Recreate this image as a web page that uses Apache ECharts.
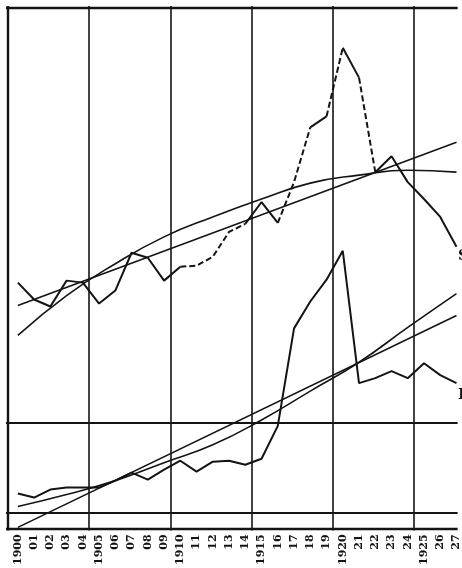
<!DOCTYPE html>
<html>
<head>
<meta charset="utf-8">
<script src="https://cdn.jsdelivr.net/npm/echarts@6/dist/echarts.min.js"></script>
<style>
  html, body { margin: 0; padding: 0; background: #fff; }
  #chart { width: 462px; height: 568px; }
</style>
</head>
<body>
<div id="chart"></div>
<script>
// years 1900 - 1927, labels as printed on the scan
var years = [];
for (var y = 1900; y <= 1927; y++) years.push(y);
var yearLabels = years.map(function (y) {
  return y % 5 === 0 ? String(y) : String(y).slice(2);
});

// upper curve (S), arbitrary units
var sValues = [247, 230, 223, 249, 247, 226, 239, 277, 272, 249, 263, 264, 273, 298, 306,
  328, 307, 348, 403, 414, 483, 453, 358, 374, 348, 331, 313, 283];
// segments of S that are printed dashed (from index, to index)
var sDashed = [[10, 14], [16, 18], [19, 20], [21, 22]];

// lower curve (R)
var rValues = [35, 31, 39, 41, 41, 41, 48, 56, 49, 59, 68, 57, 67, 68, 64,
  70, 103, 201, 228, 250, 279, 146, 151, 158, 151, 166, 154, 146];

// trend lines: straight (ends) and curved (read every 3 years)
var sLineEnds = [[0, 224], [27, 388]];
var sCurveYears = [0, 3, 6, 9, 12, 15, 18, 21, 24, 27];
var sCurveValues = [194, 234, 266, 293, 313, 331, 347, 355, 360, 358];
var rLineEnds = [[0, 1], [27, 214]];
var rCurveYears = [0, 3, 6, 9, 12, 15, 18, 21, 24, 27];
var rCurveValues = [22, 34, 48, 66, 84, 109, 138, 167, 202, 236];

// ruled lines of the chart paper
var verticalRules = [-0.61, 4.39, 9.39, 14.39, 19.39, 24.39];
var horizontalRules = [523, 106, 16, 0];

var ink = "#141414";
var chart = echarts.init(document.getElementById("chart"));

function pairs(xs, vs) {
  return xs.map(function (x, i) { return [x, vs[i]]; });
}

function isDashed(i) {
  return sDashed.some(function (r) { return i >= r[0] && i < r[1]; });
}

var series = [];

// S drawn as runs of solid / dashed pieces
var runStart = 0;
for (var i = 0; i < sValues.length - 1; i++) {
  var last = i === sValues.length - 2;
  if (last || isDashed(i) !== isDashed(i + 1)) {
    var pts = [];
    for (var k = runStart; k <= i + 1; k++) pts.push([k, sValues[k]]);
    series.push({
      type: "line",
      data: pts,
      symbol: "none",
      lineStyle: { color: ink, width: 2, type: isDashed(i) ? [6, 3] : "solid" },
    });
    runStart = i + 1;
  }
}

series.push({
  type: "line",
  data: rValues.map(function (v, i) { return [i, v]; }),
  symbol: "none",
  lineStyle: { color: ink, width: 2 },
});

series.push({
  type: "line",
  data: sLineEnds,
  symbol: "none",
  lineStyle: { color: ink, width: 1.6 },
  markLine: {
    silent: true,
    symbol: "none",
    label: { show: false },
    animation: false,
    data: verticalRules.map(function (x, i) {
      return { xAxis: x, lineStyle: { color: ink, width: i === 0 ? 2.4 : 1.6, type: "solid" } };
    }).concat(horizontalRules.map(function (v) {
      var heavy = v === 0 || v === 523;
      return { yAxis: v, lineStyle: { color: ink, width: heavy ? 2.4 : 1.8, type: "solid" } };
    })),
  },
});
series.push({
  type: "line",
  data: pairs(sCurveYears, sCurveValues),
  smooth: true,
  symbol: "none",
  lineStyle: { color: ink, width: 1.6 },
});
series.push({
  type: "line",
  data: rLineEnds,
  symbol: "none",
  lineStyle: { color: ink, width: 1.6 },
});
series.push({
  type: "line",
  data: pairs(rCurveYears, rCurveValues),
  smooth: true,
  symbol: "none",
  lineStyle: { color: ink, width: 1.6 },
});

var option = {
  backgroundColor: "#fff",
  animation: false,
  grid: { left: 6, right: 0, top: 6, bottom: 35 },
  xAxis: {
    type: "value",
    min: -0.73,
    max: 27.07,
    axisLine: { show: false },
    axisTick: { show: false },
    splitLine: { show: false },
    axisLabel: {
      customValues: years.map(function (y, i) { return i; }),
      formatter: function (v) { return yearLabels[Math.round(v)]; },
      rotate: 90,
      margin: 4,
      color: ink,
      fontFamily: "DejaVu Serif",
      fontWeight: "bold",
      fontSize: 11,
    },
  },
  yAxis: {
    type: "value",
    min: -2,
    max: 525,
    show: false,
  },
  graphic: [
    { type: "text", left: 458, top: 249, style: { text: "S", font: "bold 15px 'DejaVu Serif'", fill: ink } },
    { type: "text", left: 458, top: 388, style: { text: "R", font: "bold 15px 'DejaVu Serif'", fill: ink } },
  ],
  series: series,
};

chart.setOption(option);
</script>
</body>
</html>
